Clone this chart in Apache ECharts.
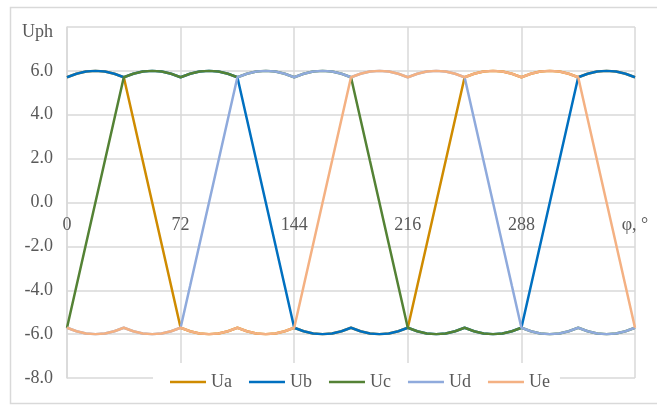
<!DOCTYPE html>
<html>
<head>
<meta charset="utf-8">
<script src="https://cdn.jsdelivr.net/npm/echarts@6/dist/echarts.min.js"></script>
<style>
html,body{margin:0;padding:0;background:#fff;}
#c{width:657px;height:409px;}
</style>
</head>
<body>
<div id="c"></div>
<script>
// angle samples, degrees
const angles = [
  0, 6, 12, 18, 24, 30,
  36, 42, 48, 54, 60, 66,
  72, 78, 84, 90, 96, 102,
  108, 114, 120, 126, 132, 138,
  144, 150, 156, 162, 168, 174,
  180, 186, 192, 198, 204, 210,
  216, 222, 228, 234, 240, 246,
  252, 258, 264, 270, 276, 282,
  288, 294, 300, 306, 312, 318,
  324, 330, 336, 342, 348, 354,
  360
];
const Ua = [
  5.71, 5.87, 5.97, 6.00, 5.97, 5.87,
  5.71, 3.81, 1.90, 0.00, -1.90, -3.81,
  -5.71, -5.87, -5.97, -6.00, -5.97, -5.87,
  -5.71, -5.87, -5.97, -6.00, -5.97, -5.87,
  -5.71, -5.87, -5.97, -6.00, -5.97, -5.87,
  -5.71, -5.87, -5.97, -6.00, -5.97, -5.87,
  -5.71, -3.81, -1.90, 0.00, 1.90, 3.81,
  5.71, 5.87, 5.97, 6.00, 5.97, 5.87,
  5.71, 5.87, 5.97, 6.00, 5.97, 5.87,
  5.71, 5.87, 5.97, 6.00, 5.97, 5.87,
  5.71
];
const Ub = [
  5.71, 5.87, 5.97, 6.00, 5.97, 5.87,
  5.71, 5.87, 5.97, 6.00, 5.97, 5.87,
  5.71, 5.87, 5.97, 6.00, 5.97, 5.87,
  5.71, 3.81, 1.90, 0.00, -1.90, -3.81,
  -5.71, -5.87, -5.97, -6.00, -5.97, -5.87,
  -5.71, -5.87, -5.97, -6.00, -5.97, -5.87,
  -5.71, -5.87, -5.97, -6.00, -5.97, -5.87,
  -5.71, -5.87, -5.97, -6.00, -5.97, -5.87,
  -5.71, -3.81, -1.90, 0.00, 1.90, 3.81,
  5.71, 5.87, 5.97, 6.00, 5.97, 5.87,
  5.71
];
const Uc = [
  -5.71, -3.81, -1.90, 0.00, 1.90, 3.81,
  5.71, 5.87, 5.97, 6.00, 5.97, 5.87,
  5.71, 5.87, 5.97, 6.00, 5.97, 5.87,
  5.71, 5.87, 5.97, 6.00, 5.97, 5.87,
  5.71, 5.87, 5.97, 6.00, 5.97, 5.87,
  5.71, 3.81, 1.90, 0.00, -1.90, -3.81,
  -5.71, -5.87, -5.97, -6.00, -5.97, -5.87,
  -5.71, -5.87, -5.97, -6.00, -5.97, -5.87,
  -5.71, -5.87, -5.97, -6.00, -5.97, -5.87,
  -5.71, -5.87, -5.97, -6.00, -5.97, -5.87,
  -5.71
];
const Ud = [
  -5.71, -5.87, -5.97, -6.00, -5.97, -5.87,
  -5.71, -5.87, -5.97, -6.00, -5.97, -5.87,
  -5.71, -3.81, -1.90, 0.00, 1.90, 3.81,
  5.71, 5.87, 5.97, 6.00, 5.97, 5.87,
  5.71, 5.87, 5.97, 6.00, 5.97, 5.87,
  5.71, 5.87, 5.97, 6.00, 5.97, 5.87,
  5.71, 5.87, 5.97, 6.00, 5.97, 5.87,
  5.71, 3.81, 1.90, 0.00, -1.90, -3.81,
  -5.71, -5.87, -5.97, -6.00, -5.97, -5.87,
  -5.71, -5.87, -5.97, -6.00, -5.97, -5.87,
  -5.71
];
const Ue = [
  -5.71, -5.87, -5.97, -6.00, -5.97, -5.87,
  -5.71, -5.87, -5.97, -6.00, -5.97, -5.87,
  -5.71, -5.87, -5.97, -6.00, -5.97, -5.87,
  -5.71, -5.87, -5.97, -6.00, -5.97, -5.87,
  -5.71, -3.81, -1.90, 0.00, 1.90, 3.81,
  5.71, 5.87, 5.97, 6.00, 5.97, 5.87,
  5.71, 5.87, 5.97, 6.00, 5.97, 5.87,
  5.71, 5.87, 5.97, 6.00, 5.97, 5.87,
  5.71, 5.87, 5.97, 6.00, 5.97, 5.87,
  5.71, 3.81, 1.90, 0.00, -1.90, -3.81,
  -5.71
];
const seriesNames = ['Ua', 'Ub', 'Uc', 'Ud', 'Ue'];
const seriesValues = [Ua, Ub, Uc, Ud, Ue];
const colors = ['#CF8B00', '#0070C0', '#548235', '#8FAADC', '#F4B183'];
const xTicks = [0, 72, 144, 216, 288, 360];
const yTicks = [-8, -6, -4, -2, 0, 2, 4, 6, 8];
const xTitle = 'φ, °';
const yTitle = 'Uph';

const FONT = '"Liberation Serif", "Times New Roman", serif';
const TXT = '#595959';
const GRID = '#D9D9D9';
const FS = 18;

const gridTop = 27, gridBottomPx = 378;
const yMin = yTicks[0], yMax = yTicks[yTicks.length - 1];
// shift the x axis (labels) up to the y = 0 line
const zeroShift = -(gridBottomPx - gridTop) * (0 - yMin) / (yMax - yMin);

const chart = echarts.init(document.getElementById('c'), null, {renderer: 'canvas'});
chart.setOption({
  animation: false,
  backgroundColor: '#fff',
  color: colors,
  graphic: [{
    type: 'rect',
    shape: {x: 10.5, y: 7.5, width: 700, height: 396},
    style: {fill: 'none', stroke: GRID, lineWidth: 1.5},
    silent: true, z: -10
  }],
  grid: {left: 67, top: gridTop, right: 22, bottom: 409 - gridBottomPx, containLabel: false},
  legend: {
    data: seriesNames,
    icon: 'rect',
    left: 153, top: 363,
    padding: [10, 10, 10, 17],
    itemGap: 17,
    itemWidth: 36, itemHeight: 2.5,
    backgroundColor: '#fff',
    textStyle: {fontFamily: FONT, fontSize: FS, color: TXT},
    z: 10
  },
  xAxis: {
    type: 'value',
    position: 'bottom',
    offset: zeroShift,
    min: xTicks[0], max: xTicks[xTicks.length - 1], interval: 72,
    axisLine: {show: false, onZero: false},
    axisTick: {show: false},
    splitLine: {show: true, lineStyle: {color: GRID, width: 1.5}},
    axisLabel: {
      fontFamily: FONT, fontSize: FS, color: TXT, margin: 14,
      formatter: v => (v === xTicks[xTicks.length - 1] ? xTitle : String(v))
    }
  },
  yAxis: {
    type: 'value',
    min: yMin, max: yMax, interval: 2,
    axisLine: {show: true, lineStyle: {color: GRID, width: 1.5}},
    axisTick: {show: false},
    splitLine: {show: true, lineStyle: {color: GRID, width: 1.5}},
    axisLabel: {
      fontFamily: FONT, fontSize: FS, color: TXT, margin: 14,
      formatter: v => (v === yMax ? '{u|' + yTitle + '}' : v.toFixed(1)),
      rich: {u: {fontFamily: FONT, fontSize: FS, color: TXT, padding: [10, 0, 0, 0]}}
    }
  },
  series: seriesNames.map((n, i) => ({
    name: n,
    type: 'line',
    data: angles.map((a, j) => [a, seriesValues[i][j]]),
    symbol: 'none',
    smooth: false,
    lineStyle: {width: 2.5, color: colors[i]},
    itemStyle: {color: colors[i]},
    z: 2 + i
  }))
});
</script>
</body>
</html>
